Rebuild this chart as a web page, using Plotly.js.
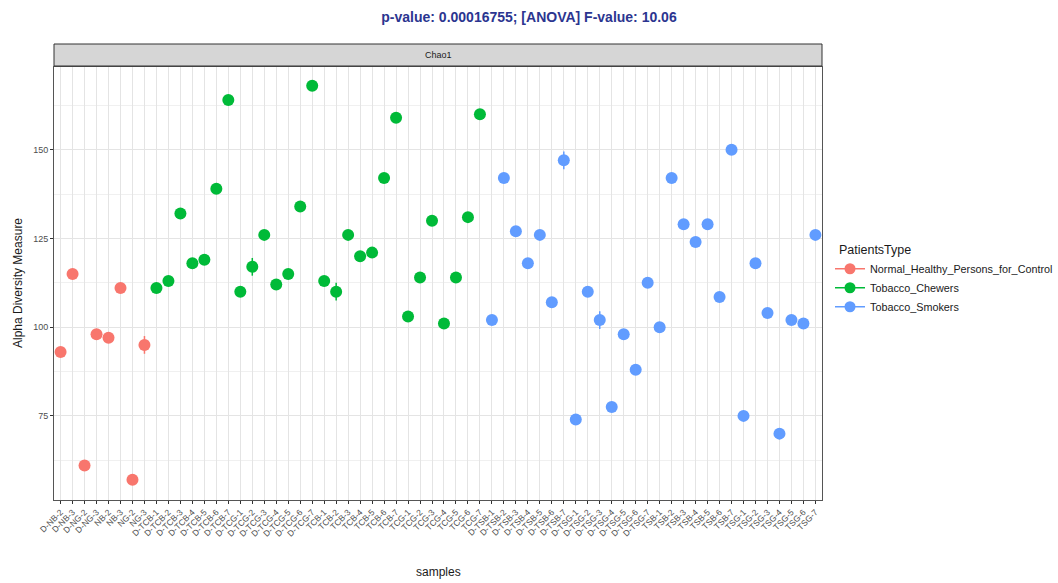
<!DOCTYPE html>
<html>
<head>
<meta charset="utf-8">
<script src="https://cdn.plot.ly/plotly-3.0.1.min.js"></script>
<style>html,body{margin:0;padding:0;background:#fff;}#chart{width:1058px;height:583px;}</style>
</head>
<body>
<div id="chart"></div>
<script>
// Sample names per group
const normalSamples = ["D-NB-2","D-NB-3","D-NG-2","D-NG-3","NB-2","NB-3","NG-2","NG-3"];
const chewerSamples = ["D-TCB-1","D-TCB-2","D-TCB-3","D-TCB-4","D-TCB-5","D-TCB-6","D-TCB-7",
  "D-TCG-1","D-TCG-2","D-TCG-3","D-TCG-4","D-TCG-5","D-TCG-6","D-TCG-7",
  "TCB-1","TCB-2","TCB-3","TCB-4","TCB-5","TCB-6","TCB-7",
  "TCG-1","TCG-2","TCG-3","TCG-4","TCG-5","TCG-6","TCG-7"];
const smokerSamples = ["D-TSB-1","D-TSB-2","D-TSB-3","D-TSB-4","D-TSB-5","D-TSB-6","D-TSB-7",
  "D-TSG-1","D-TSG-2","D-TSG-3","D-TSG-4","D-TSG-5","D-TSG-6","D-TSG-7",
  "TSB-1","TSB-2","TSB-3","TSB-4","TSB-5","TSB-6","TSB-7",
  "TSG-1","TSG-2","TSG-3","TSG-4","TSG-5","TSG-6","TSG-7"];

// Chao1 values
const normalChao1 = [93,115,61,98,97,111,57,95];
const chewerChao1 = [111,113,132,118,119,139,164,110,117,126,112,115,134,168,113,110,126,120,121,142,159,103,114,130,101,114,131,160];
const smokerChao1 = [102,142,127,118,126,107,147,74,110,102,77.5,98,88,112.5,100,142,129,124,129,108.5,150,75,118,104,70,102,101,126];

// Chao1 standard errors
const normalSE = [0,0,0,0,0,0,0,2.5];
const chewerSE = [0,0,0,0,0,0,0,0,2.5,0,0,0,0,0,0,2.5,0,0,0,0,0,0,0,0,0,0,0,0];
const smokerSE = [0,0,0,0,0,0,2.5,0,0,2.5,0,0,0,0,0,0,0,0,0,0,0,0,0,0,0,0,0,0];

const groupNames = ["Normal_Healthy_Persons_for_Control","Tobacco_Chewers","Tobacco_Smokers"];
const groupColors = ["#F8766D","#00BA38","#619CFF"];

const allSamples = normalSamples.concat(chewerSamples, smokerSamples);
const groups = [[normalSamples,normalChao1,normalSE],[chewerSamples,chewerChao1,chewerSE],[smokerSamples,smokerChao1,smokerSE]];

const traces = [];
groups.forEach((g,i)=>{
  traces.push({
    type:'scatter', mode:'markers', x:g[0], y:g[1], showlegend:false,
    marker:{color:groupColors[i], size:12},
    error_y:{type:'data', array:g[2], visible:true, color:groupColors[i], thickness:1.5, width:0},
    hoverinfo:'x+y'
  });
});
groups.forEach((g,i)=>{
  traces.push({
    type:'scatter', mode:'lines+markers', x:[null], y:[null], name:groupNames[i],
    marker:{color:groupColors[i], size:11}, line:{color:groupColors[i], width:1.5}
  });
});

const gridMajor = '#e4e4e4';
const layout = {
  width:1058, height:583,
  paper_bgcolor:'#fff', plot_bgcolor:'#fff',
  margin:{l:54, r:236, t:67, b:83, autoexpand:false},
  font:{family:'Liberation Sans, Arial, sans-serif', color:'#4d4d4d'},
  title:{text:'<b>p-value: 0.00016755; [ANOVA] F-value: 10.06</b>', font:{size:14, color:'#2b3590'},
    x:0.5, xref:'container', xanchor:'center', y:1-17/583, yref:'container', yanchor:'middle'},
  xaxis:{type:'category', categoryorder:'array', categoryarray:allSamples,
    tickangle:-45, tickfont:{size:8.5, color:'#4d4d4d'},
    showgrid:true, gridcolor:gridMajor, gridwidth:1,
    showline:true, linecolor:'#555', linewidth:1, mirror:true,
    ticks:'outside', ticklen:3, tickcolor:'#333', zeroline:false, automargin:false,
    range:[-0.55, allSamples.length-0.45]},
  yaxis:{range:[51.3,173.3], tickvals:[75,100,125,150], ticktext:['75','100','125','150'],
    tickfont:{size:9, color:'#4d4d4d'},
    showgrid:true, gridcolor:gridMajor, gridwidth:1,
    minor:{tickvals:[62.5,87.5,112.5,137.5,162.5], showgrid:true, gridcolor:'#f0f0f0', gridwidth:1},
    showline:true, linecolor:'#555', linewidth:1, mirror:true,
    ticks:'outside', ticklen:3, tickcolor:'#333', zeroline:false, automargin:false},
  legend:{x:(830-54)/768, xanchor:'left', y:(500-238)/433, yanchor:'top',
    title:{text:'&nbsp;&nbsp;PatientsType', font:{size:12.5, color:'#1a1a1a'}},
    font:{size:10.8, color:'#1a1a1a'}, itemwidth:30, bgcolor:'rgba(0,0,0,0)'},
  shapes:[{type:'rect', xref:'paper', yref:'paper', x0:0, x1:1, y0:1+1/433, y1:1+23/433,
    fillcolor:'#d6d6d6', line:{color:'#333', width:1}}],
  annotations:[
    {text:'Chao1', xref:'paper', yref:'paper', x:0.5, y:1+12/433, xanchor:'center', yanchor:'middle',
      showarrow:false, font:{size:9, color:'#1a1a1a'}},
    {text:'samples', xref:'paper', yref:'paper', x:0.5, y:(500-572)/433, xanchor:'center', yanchor:'middle',
      showarrow:false, font:{size:12, color:'#1a1a1a'}},
    {text:'Alpha Diversity Measure', xref:'paper', yref:'paper', x:(18-54)/768, y:(500-283)/433,
      xanchor:'center', yanchor:'middle', textangle:-90, showarrow:false, font:{size:12, color:'#1a1a1a'}}
  ]
};
Plotly.newPlot('chart', traces, layout, {displayModeBar:false, staticPlot:true});
</script>
</body>
</html>
